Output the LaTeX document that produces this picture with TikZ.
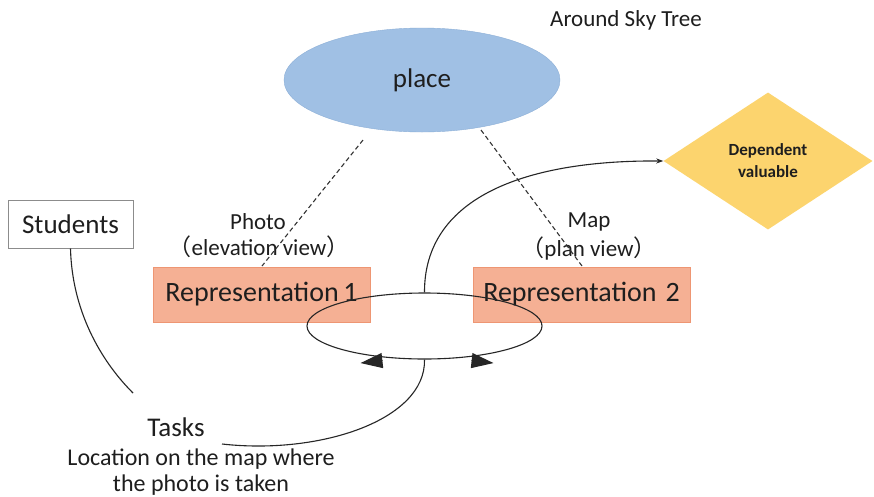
\documentclass[tikz,border=0pt]{standalone}
\usepackage{fontspec}
\setmainfont{Carlito}
\newfontfamily\cjk{Noto Sans CJK JP}
\usetikzlibrary{shapes.geometric,arrows.meta}
\definecolor{placeblue}{RGB}{160,192,228}
\definecolor{placeedge}{RGB}{140,175,215}
\definecolor{repfill}{RGB}{245,176,148}
\definecolor{repedge}{RGB}{238,150,115}
\definecolor{dvfill}{RGB}{252,212,110}
\definecolor{txt}{RGB}{30,30,30}
\newcommand{\lp}{{\cjk （}}
\newcommand{\rp}{{\cjk ）}}
\tikzset{
  repbox/.style={draw=repedge,fill=repfill,minimum width=217pt,minimum height=55pt,inner sep=0pt,
    font=\fontsize{28}{32}\selectfont,text=txt},
  lbl/.style={font=\fontsize{23}{26}\selectfont,text=txt,align=center,inner sep=0pt},
  conn/.style={draw=black!85,line width=1.1pt},
  dashconn/.style={draw=black!80,line width=1.1pt,dashed,dash pattern=on 4.5pt off 3pt},
  bigtip/.style={-{Triangle[length=22pt,width=15pt]},line width=1.1pt},
}
\begin{document}
\begin{tikzpicture}[x=1pt,y=-1pt]
\useasboundingbox (0,0) rectangle (874,496);
\fill[white] (0,0) rectangle (874,496);
% place
\node[ellipse,draw=placeedge,fill=placeblue,minimum width=276pt,minimum height=104pt,inner sep=0pt,
  font=\fontsize{27}{30}\selectfont,text=txt] (place) at (422,80) {place};
\node[lbl] (sky) at (626,20) {Around Sky Tree};
% dependent
\node[diamond,fill=dvfill,aspect=1.53,minimum width=209pt,minimum height=137pt,inner sep=0pt,
  font=\fontsize{17}{22}\selectfont\bfseries,align=center,text=txt] (dv) at (768,161) {Dependent\\valuable};
% students
\node[draw=black!45,fill=white,line width=1pt,minimum width=125pt,minimum height=48pt,inner sep=0pt,
  font=\fontsize{27}{30}\selectfont,text=txt] (stu) at (70.5,224) {Students};
% representations
\node[repbox] (r1) at (261.5,294.5) {Representation\,1};
\node[repbox] (r2) at (581.5,294.5) {Representation\hspace{9pt}2};
% labels
\node[lbl] (photo) at (258,222) {Photo};
\node[lbl] (elev) at (259,247) {\lp elevation view\rp};
\node[lbl] (map) at (589,222) {Map};
\node[lbl] (plan) at (589,249) {\lp plan view\rp};
% tasks
\node[font=\fontsize{27}{30}\selectfont,text=txt,inner sep=0pt] (tasks) at (176,427) {Tasks};
\node[font=\fontsize{24}{26}\selectfont,text=txt,align=center,inner sep=0pt] (loc) at (201,472)
  {Location on the map where\\the photo is taken};
% dashed connectors
\coordinate (p1) at (363,140);
\coordinate (p2) at (481,130);
\coordinate (q1) at (262,266);
\coordinate (q2) at (582,266);
\draw[dashconn] (p1) -- (q1);
\draw[dashconn] (p2) -- (q2);
% loop
\node[ellipse,draw=black!85,line width=1.1pt,minimum width=235pt,minimum height=66pt,inner sep=0pt] (loop) at (424.5,326) {};
\draw[bigtip,draw=black!85] ([xshift=-42pt,yshift=-1pt]loop.south) -- ([xshift=-64pt,yshift=-3.5pt]loop.south);
\draw[bigtip,draw=black!85] ([xshift=47pt,yshift=-1pt]loop.south) -- ([xshift=69pt,yshift=-3.5pt]loop.south);
% curves
\coordinate (tk) at (222,444);
\draw[conn,-{Stealth[length=7pt,width=5pt]}] (loop.north) .. controls (424,200) and (520,160) .. (dv.west);
\draw[conn] (loop.south) .. controls (426,420) and (320,455) .. (tk);
\coordinate (st) at (133,393);
\draw[conn] (stu.south) .. controls (72,310) and (100,360) .. (st);
\end{tikzpicture}
\end{document}
